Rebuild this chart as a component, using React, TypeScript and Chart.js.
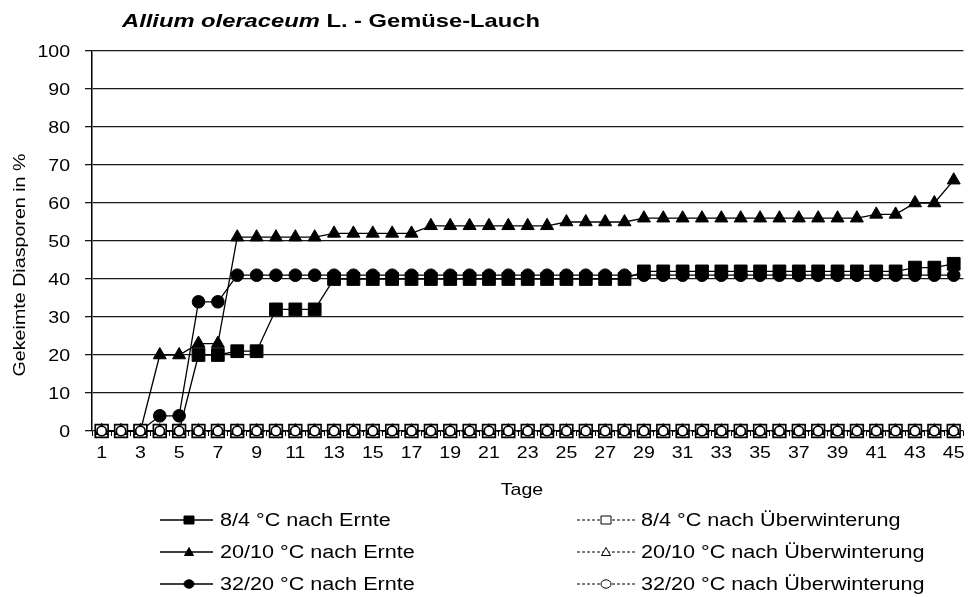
import React, { useEffect, useRef } from 'react';
import { Chart, registerables } from 'chart.js';

Chart.register(...registerables);

const days: string[] = ['1','2','3','4','5','6','7','8','9','10','11','12','13','14','15','16','17','18','19','20','21','22','23','24','25','26','27','28','29','30','31','32','33','34','35','36','37','38','39','40','41','42','43','44','45'];
const yTickLabels: string[] = ['0','10','20','30','40','50','60','70','80','90','100'];

const ernte84: number[] = [0,0,0,0,0,20,20,21,21,32,32,32,40,40,40,40,40,40,40,40,40,40,40,40,40,40,40,40,42,42,42,42,42,42,42,42,42,42,42,42,42,42,43,43,44];
const ernte2010: number[] = [0,0,0,20,20,23,23,51,51,51,51,51,52,52,52,52,52,54,54,54,54,54,54,54,55,55,55,55,56,56,56,56,56,56,56,56,56,56,56,56,57,57,60,60,66];
const ernte3220: number[] = [0,0,0,4,4,34,34,41,41,41,41,41,41,41,41,41,41,41,41,41,41,41,41,41,41,41,41,41,41,41,41,41,41,41,41,41,41,41,41,41,41,41,41,41,41];
const winter84: number[] = [0,0,0,0,0,0,0,0,0,0,0,0,0,0,0,0,0,0,0,0,0,0,0,0,0,0,0,0,0,0,0,0,0,0,0,0,0,0,0,0,0,0,0,0,0];
const winter2010: number[] = [0,0,0,0,0,0,0,0,0,0,0,0,0,0,0,0,0,0,0,0,0,0,0,0,0,0,0,0,0,0,0,0,0,0,0,0,0,0,0,0,0,0,0,0,0];
const winter3220: number[] = [0,0,0,0,0,0,0,0,0,0,0,0,0,0,0,0,0,0,0,0,0,0,0,0,0,0,0,0,0,0,0,0,0,0,0,0,0,0,0,0,0,0,0,0,0];

const seriesLabels: string[] = [
  '8/4 °C nach Ernte',
  '20/10 °C nach Ernte',
  '32/20 °C nach Ernte',
  '8/4 °C nach Überwinterung',
  '20/10 °C nach Überwinterung',
  '32/20 °C nach Überwinterung',
];

const titleItalic = 'Allium oleraceum';
const titleRest = ' L. - Gemüse-Lauch';
const yTitle = 'Gekeimte Diasporen in %';
const xTitle = 'Tage';

const FONT = '"Liberation Sans", Arial, Helvetica, sans-serif';
const STRETCH = 1.2;

function stretchText(ctx: CanvasRenderingContext2D, text: string, x: number, y: number, align: CanvasTextAlign, sx: number) {
  ctx.save();
  ctx.translate(x, y);
  ctx.scale(sx, 1);
  ctx.textAlign = align;
  ctx.fillText(text, 0, 0);
  ctx.restore();
}

function drawMarker(ctx: CanvasRenderingContext2D, style: string, x: number, y: number, filled: boolean) {
  ctx.save();
  ctx.lineWidth = 1;
  ctx.strokeStyle = '#000';
  ctx.fillStyle = filled ? '#000' : '#fff';
  ctx.beginPath();
  if (style === 'rect') {
    ctx.rect(x - 5, y - 4, 10, 8);
  } else if (style === 'triangle') {
    ctx.moveTo(x, y - 4.5);
    ctx.lineTo(x + 4.5, y + 3.5);
    ctx.lineTo(x - 4.5, y + 3.5);
    ctx.closePath();
  } else {
    ctx.ellipse(x, y, 5, 4.2, 0, 0, Math.PI * 2);
  }
  ctx.fill();
  ctx.stroke();
  ctx.restore();
}

const textPlugin = {
  id: 'customText',
  afterDraw(chart: any) {
    const ctx: CanvasRenderingContext2D = chart.ctx;
    const xs = chart.scales.x;
    const ys = chart.scales.y;
    ctx.save();
    ctx.fillStyle = '#000';

    // title
    ctx.textBaseline = 'alphabetic';
    const f1 = 'italic bold 19px ' + FONT;
    const f2 = 'bold 19px ' + FONT;
    ctx.font = f1;
    const w1 = ctx.measureText(titleItalic).width;
    ctx.font = f2;
    const w2 = ctx.measureText(titleRest).width;
    const sx = 418 / (w1 + w2);
    ctx.save();
    ctx.translate(122, 27);
    ctx.scale(sx, 1);
    ctx.textAlign = 'left';
    ctx.font = f1;
    ctx.fillText(titleItalic, 0, 0);
    ctx.font = f2;
    ctx.fillText(titleRest, w1, 0);
    ctx.restore();

    // y tick labels
    ctx.font = '17px ' + FONT;
    ctx.textBaseline = 'middle';
    for (const t of yTickLabels) {
      const py = ys.getPixelForValue(Number(t));
      stretchText(ctx, t, 70, py + 1, 'right', 1.15);
    }
    // x tick labels (every second day)
    for (let i = 0; i < days.length; i += 2) {
      const px = xs.getPixelForValue(i);
      stretchText(ctx, days[i], px, 453, 'center', 1.15);
    }

    // y title
    ctx.save();
    ctx.font = '17px ' + FONT;
    ctx.textBaseline = 'alphabetic';
    const wy = ctx.measureText(yTitle).width;
    ctx.translate(25, 265);
    ctx.rotate(-Math.PI / 2);
    ctx.scale(223 / wy, 1);
    ctx.textAlign = 'center';
    ctx.fillText(yTitle, 0, 0);
    ctx.restore();

    // x title
    ctx.font = '17px ' + FONT;
    ctx.textBaseline = 'middle';
    stretchText(ctx, xTitle, 522, 490, 'center', 1.15);

    // legend
    const rows = [520, 552, 584];
    const styles = ['rect', 'triangle', 'circle'];
    for (let i = 0; i < 3; i++) {
      const y = rows[i];
      ctx.save();
      ctx.strokeStyle = '#000';
      ctx.lineWidth = 1.5;
      ctx.beginPath();
      ctx.moveTo(160, y);
      ctx.lineTo(213, y);
      ctx.stroke();
      ctx.restore();
      drawMarker(ctx, styles[i], 189, y, true);
      ctx.font = '18px ' + FONT;
      ctx.textBaseline = 'middle';
      stretchText(ctx, seriesLabels[i], 220, y + 1, 'left', STRETCH);

      ctx.save();
      ctx.strokeStyle = '#000';
      ctx.lineWidth = 1;
      ctx.setLineDash([3, 2]);
      ctx.beginPath();
      ctx.moveTo(577, y);
      ctx.lineTo(637, y);
      ctx.stroke();
      ctx.restore();
      drawMarker(ctx, styles[i], 606, y, false);
      ctx.font = '18px ' + FONT;
      stretchText(ctx, seriesLabels[i + 3], 641, y + 1, 'left', STRETCH);
    }
    ctx.restore();
  },
};

export default function App() {
  const ref = useRef<HTMLCanvasElement | null>(null);
  useEffect(() => {
    if (!ref.current) return;
    const solid = (label: string, data: number[], style: string, radius: number, order: number) => ({
      label,
      data,
      borderColor: '#000',
      backgroundColor: '#000',
      borderWidth: 1.3,
      pointStyle: style,
      pointRadius: radius,
      pointBorderWidth: 1,
      pointBorderColor: '#000',
      pointBackgroundColor: '#000',
      order,
      clip: false,
    });
    const dashed = (label: string, data: number[], style: string, radius: number, order: number) => ({
      label,
      data,
      borderColor: '#000',
      backgroundColor: '#fff',
      borderWidth: 1,
      borderDash: [3, 2],
      pointStyle: style,
      pointRadius: radius,
      pointBorderWidth: 1.6,
      pointBorderColor: '#000',
      pointBackgroundColor: '#fff',
      order,
      clip: false,
    });
    const chart = new Chart(ref.current, {
      type: 'line',
      data: {
        labels: days,
        datasets: [
          solid(seriesLabels[0], ernte84, 'rect', 9, 4),
          solid(seriesLabels[1], ernte2010, 'triangle', 7.5, 6),
          solid(seriesLabels[2], ernte3220, 'circle', 6.3, 5),
          dashed(seriesLabels[3], winter84, 'rect', 9, 3),
          dashed(seriesLabels[4], winter2010, 'triangle', 6.5, 2),
          dashed(seriesLabels[5], winter3220, 'circle', 4.7, 1),
        ] as any,
      },
      options: {
        responsive: false,
        animation: false,
        layout: { padding: { top: 51, right: 6, left: 0, bottom: 0 } },
        plugins: {
          legend: { display: false },
          title: { display: false },
          tooltip: { enabled: false },
        },
        scales: {
          x: {
            type: 'category',
            offset: true,
            grid: { display: true, drawOnChartArea: false, offset: true, tickLength: 5, color: '#000', lineWidth: 1 },
            border: { display: false },
            ticks: { display: false, autoSkip: false },
            afterFit: (s: any) => { s.height = 166; },
          },
          y: {
            min: 0,
            max: 100,
            ticks: { stepSize: 10, display: false },
            grid: { color: '#1a1a1a', lineWidth: 1.3, tickLength: 7 },
            border: { display: true, color: '#000', width: 1.5 },
            afterFit: (s: any) => { s.width = 92; },
          },
        },
      },
      plugins: [textPlugin],
    });
    return () => chart.destroy();
  }, []);
  return (
    <div style={{ position: 'absolute', left: 0, top: 0, width: 974, height: 597, background: '#fff' }}>
      <canvas ref={ref} width={974} height={597} />
    </div>
  );
}
